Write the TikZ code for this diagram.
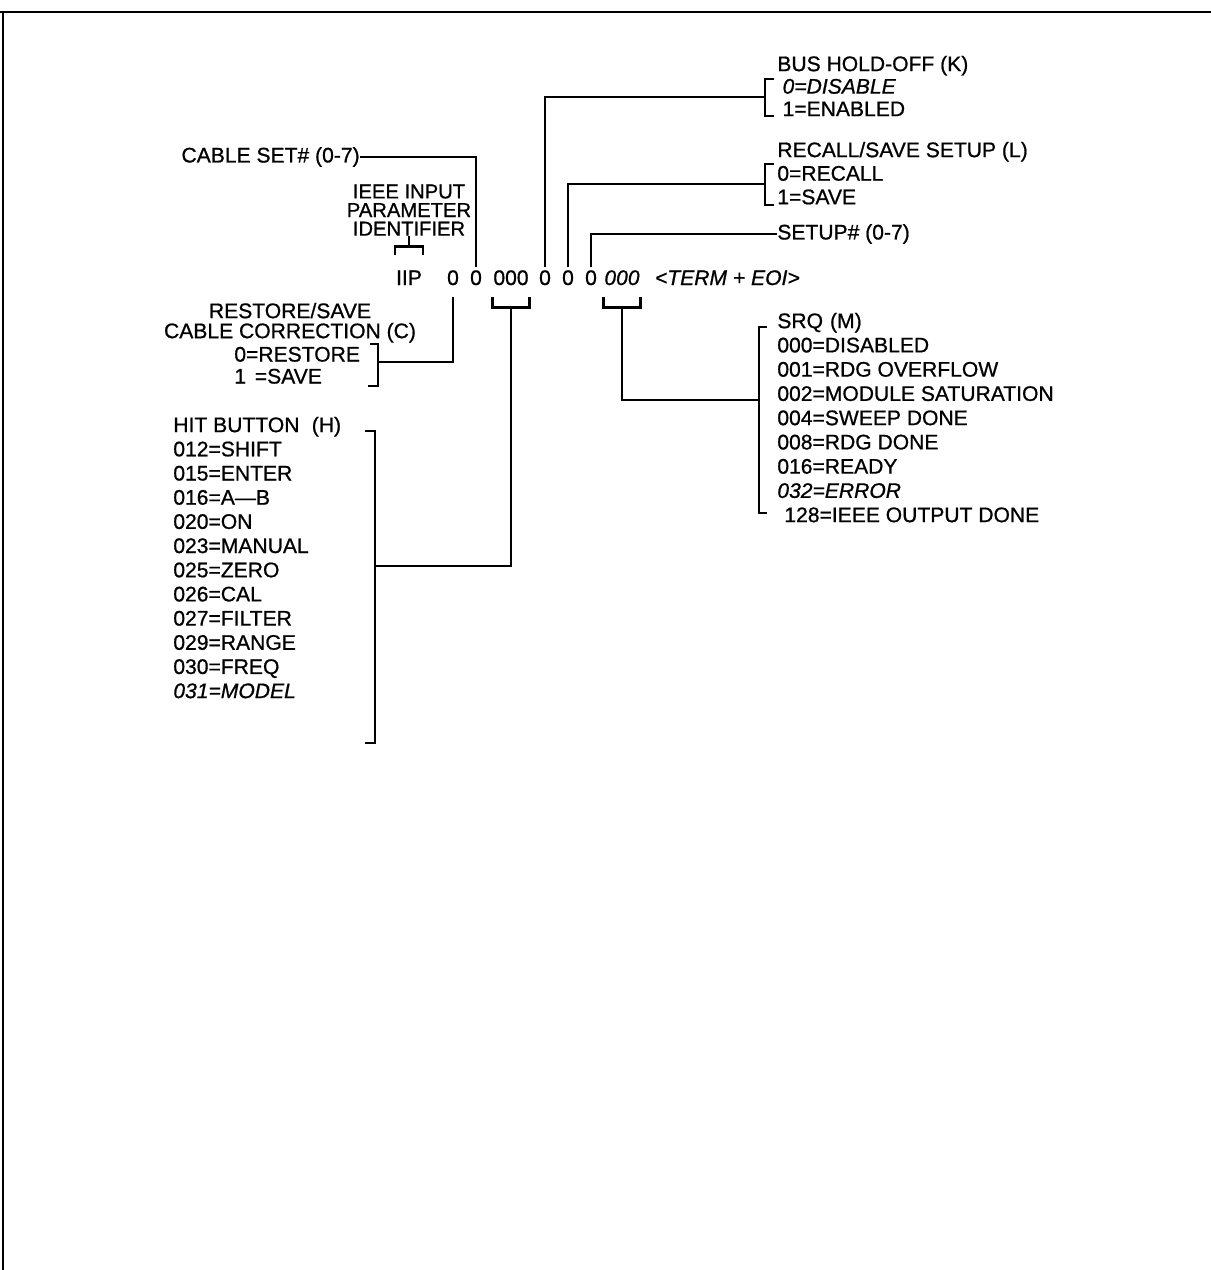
\documentclass[tikz,border=0pt]{standalone}
\usepackage{fontspec}
\setmainfont{Liberation Sans}[FakeBold=0.8]
\usetikzlibrary{positioning,calc}
\tikzset{
  lbl/.style={inner sep=0pt,align=left,font=\fontsize{12}{13.7}\selectfont},
  dig/.style={inner sep=1.5pt,anchor=base,font=\fontsize{12}{14}\selectfont},
  ln/.style={line width=1.3pt},
  brk/.style={line width=1.5pt},
}
\begin{document}
\begin{tikzpicture}[x=0.2mm,y=-0.2mm]
\useasboundingbox (0,0) rectangle (1211,1270);
% what is left of the page frame
\draw[line width=1.5pt] (0,12) -- (1211,12);
\draw[line width=1pt] (3,12) -- (3,1270);

% the command string
\node[dig] (iip) at (409,285) {IIP};
\node[dig] (c1) at (453,285) {0};
\node[dig] (c2) at (476,285) {0};
\node[dig] (h) at (511,285) {000};
\node[dig] (k) at (545,285) {0};
\node[dig] (l) at (568,285) {0};
\node[dig] (s) at (591,285) {0};
\node[dig] (m) at (622,285) {\itshape 000};
\node[dig,anchor=base west] (term) at (652,285) {\itshape <TERM + EOI>};

% labels
\node[lbl,anchor=east] (cable) at (360,157) {CABLE SET\# (0-7)};
\node[lbl,align=center,font=\fontsize{11.5}{10.6}\selectfont,anchor=south] (ieee) at (409,236) {IEEE INPUT\\PARAMETER\\IDENTIFIER};
\node[lbl,align=center,font=\fontsize{12}{11.4}\selectfont,anchor=north] (rsttl) at (290,302.5) {RESTORE/SAVE\\CABLE CORRECTION (C)};
\node[lbl,font=\fontsize{12}{12.5}\selectfont,anchor=north west] (rsval) at (234,346.5) {0=RESTORE\\1\hspace{5pt}=SAVE};
\node[lbl,font=\fontsize{12}{13.76}\selectfont,anchor=north west] (hit) at (173,416.5) {HIT BUTTON\hspace{7pt}(H)\\012=SHIFT\\015=ENTER\\016=A---B\\020=ON\\023=MANUAL\\025=ZERO\\026=CAL\\027=FILTER\\029=RANGE\\030=FREQ\\\textit{031=MODEL}};
\node[lbl,font=\fontsize{12}{12.8}\selectfont,anchor=north west] (bus) at (777,55.5) {BUS HOLD-OFF (K)\\\hspace*{3pt}\textit{0=DISABLE}\\\hspace*{3pt}1=ENABLED};
\node[lbl,font=\fontsize{12}{13.4}\selectfont,anchor=north west] (recall) at (777,141.5) {RECALL/SAVE SETUP (L)\\0=RECALL\\1=SAVE};
\node[lbl,anchor=west] (setup) at (777,234) {SETUP\# (0-7)};
\node[lbl,font=\fontsize{12}{13.8}\selectfont,anchor=north west] (srq) at (777,312.5) {SRQ\hspace{4pt}(M)\\000=DISABLED\\001=RDG OVERFLOW\\002=MODULE SATURATION\\004=SWEEP DONE\\008=RDG DONE\\016=READY\\\textit{032=ERROR}\\\hspace*{4pt}128=IEEE OUTPUT DONE};

% brackets
\draw[brk] ($(iip.north west)+(2,-13)$) -- ++(0,-8) -| ($(iip.north east)+(-2,-13)$);
\draw[brk] ($(iip.north)+(0,-21)$) -- (ieee.south);
\draw[brk] ($(h.south west)+(2,9)$) -- ++(0,10) -| ($(h.south east)+(-2,9)$);
\coordinate (hb) at ($(h.south)+(0,19)$);
\draw[brk] ($(m.south west)+(2,9)$) -- ++(0,10) -| ($(m.south east)+(-2,9)$);
\coordinate (mb) at ($(m.south)+(0,19)$);
\draw[brk] (774,79) -- (765,79) -- (765,116) -- (774,116);
\coordinate (busbr) at (765,97);
\draw[brk] (774,164) -- (765,164) -- (765,205) -- (774,205);
\coordinate (recbr) at (765,184);
\draw[brk] (767,327) -- (759,327) -- (759,513) -- (767,513);
\coordinate (srqbr) at (759,400);
\draw[brk] (370,344) -- (378,344) -- (378,386) -- (368,386);
\coordinate (resbr) at (378,362);
\draw[brk] (365,431) -- (375,431) -- (375,743) -- (365,743);
\coordinate (hitbr) at (375,566);

% connectors
\draw[ln] (cable.east) -| (c2.north);
\draw[ln] (k.north) |- (busbr);
\draw[ln] (l.north) |- (recbr);
\draw[ln] (s.north) |- (setup.west);
\draw[ln] ($(c1.south)+(0,9)$) |- (resbr);
\draw[ln] (hb) |- (hitbr);
\draw[ln] (mb) |- (srqbr);
\end{tikzpicture}
\end{document}
